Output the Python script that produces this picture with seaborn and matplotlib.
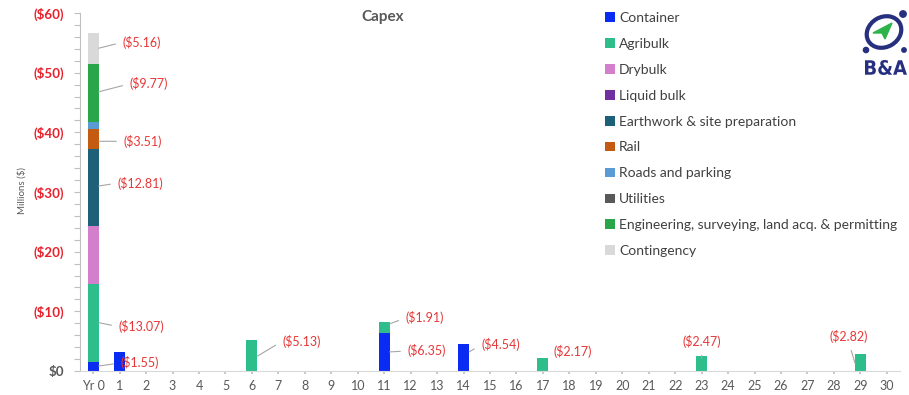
import matplotlib
matplotlib.use("Agg")
import matplotlib.pyplot as plt
import pandas as pd
import seaborn as sns
from matplotlib.patches import Patch, Ellipse, Polygon, Circle, PathPatch
from matplotlib.textpath import TextPath
from matplotlib.font_manager import FontProperties
from matplotlib.ticker import MultipleLocator
from matplotlib.transforms import Affine2D

sns.set_style("white")
plt.rcParams["font.family"] = ["Lato", "DejaVu Sans"]

# ---- data (millions of $) ----
years = list(range(31))
year_labels = ["Yr 0"] + [str(y) for y in years[1:]]

categories = [
    "Container", "Agribulk", "Drybulk", "Liquid bulk",
    "Earthwork & site preparation", "Rail", "Roads and parking",
    "Utilities", "Engineering, surveying, land acq. & permitting",
    "Contingency",
]
colors = [
    "#0A2CF2", "#2EBE8C", "#D47FCB", "#7030A0", "#1F6079",
    "#C55A11", "#5B9BD5", "#595959", "#2AA64A", "#D9D9D9",
]

container = {0: 1.55, 1: 3.25, 11: 6.35, 14: 4.54}
agribulk = {0: 13.07, 6: 5.13, 11: 1.91, 17: 2.17, 23: 2.47, 29: 2.82}
drybulk = {0: 9.70}
liquid_bulk = {}
earthwork = {0: 12.81}
rail = {0: 3.51}
roads = {0: 1.10}
utilities = {}
engineering = {0: 9.77}
contingency = {0: 5.16}

series = [container, agribulk, drybulk, liquid_bulk, earthwork, rail,
          roads, utilities, engineering, contingency]

rows = []
for cat, vals in zip(categories, series):
    for y, lab in zip(years, year_labels):
        rows.append({"year": y, "label": lab, "category": cat,
                     "value": vals.get(y, 0.0)})
df = pd.DataFrame(rows)
df["category"] = pd.Categorical(df["category"], categories, ordered=True)
df = df.sort_values(["year", "category"])
df["top"] = df.groupby("year", observed=True)["value"].cumsum()

# ---- figure ----
W, H = 909, 395
fig = plt.figure(figsize=(W / 100, H / 100), dpi=100)
ax = fig.add_axes([80 / W, 1 - 371 / H, 820 / W, (371 - 13) / H])

# stacked bars: paint cumulative totals from the top layer down
for cat, col in reversed(list(zip(categories, colors))):
    sub = df[(df["category"] == cat) & (df["value"] > 0)]
    if sub.empty:
        continue
    sns.barplot(data=sub, x="label", y="top", order=year_labels, color=col,
                saturation=1, width=0.42, errorbar=None, linewidth=0, ax=ax)

ax.set_xlim(-0.5, 30.5)
ax.set_ylim(0, 60)
ax.set_xlabel("")
ax.set_ylabel("")

red = "#E8202A"
lab_red = "#E63838"
grey = "#595959"

ax.set_yticks(range(0, 61, 10))
ax.set_yticklabels(["$0"] + [f"(${v})" for v in range(10, 61, 10)])
ax.yaxis.set_minor_locator(MultipleLocator(2))
ax.tick_params(axis="y", which="both", left=True, direction="out",
               length=4, width=0.8, color="#BFBFBF")
ax.tick_params(axis="y", which="major", labelsize=9.6, pad=7.5)
for i, t in enumerate(ax.get_yticklabels()):
    t.set_fontweight("bold")
    t.set_color(grey if i == 0 else red)

ax.set_xticks(range(31))
ax.set_xticklabels(year_labels)
ax.tick_params(axis="x", bottom=True, direction="out", length=2.5, width=1.2,
               color="#BFBFBF", labelsize=9, labelcolor=grey, pad=4)

for s in ("top", "right"):
    ax.spines[s].set_visible(False)
ax.spines["left"].set_color("#BFBFBF")
ax.spines["bottom"].set_color("#D9D9D9")
ax.spines["left"].set_linewidth(0.8)
ax.spines["bottom"].set_linewidth(0.8)

# ---- value labels with leader lines ----
line_kw = dict(arrowstyle="-", color="#A6A6A6", lw=0.8, shrinkA=3, shrinkB=0)


def value_label(x, y, text, dx, dy, ha="left", relpos=(0, 0.5), line=True):
    kw = dict(xy=(x, y), xycoords="data", xytext=(dx, dy),
              textcoords="offset pixels", ha=ha, va="center",
              fontsize=9, color=lab_red)
    if line:
        kw["arrowprops"] = dict(line_kw, relpos=relpos)
    ax.annotate(text, **kw)


edge = 0.21
value_label(0 + edge, 54.1, f"(${contingency[0]:.2f})", 24, 6)
value_label(0 + edge, 46.8, f"(${engineering[0]:.2f})", 31, 8)
value_label(0 + edge, 38.5, f"(${rail[0]:.2f})", 25, 0)
value_label(0 + edge, 31.0, f"(${earthwork[0]:.2f})", 19, 3)
value_label(0 + edge, 8.1, f"(${agribulk[0]:.2f})", 20, -4)
value_label(0 + edge, 0.84, f"(${container[0]:.2f})", 22, 3)
value_label(6 + edge, 2.5, f"(${agribulk[6]:.2f})", 25, 15)
value_label(11 + edge, 7.9, f"(${agribulk[11]:.2f})", 16, 6)
value_label(11 + edge, 3.2, f"(${container[11]:.2f})", 18, 1)
value_label(14 + edge, 3.2, f"(${container[14]:.2f})", 12, 7)
value_label(17 + edge, 2.17, f"(${agribulk[17]:.2f})", 5, 7, line=False)
value_label(23, 2.1, f"(${agribulk[23]:.2f})", 0, 17, ha="center",
            relpos=(0.5, 0))
value_label(28.8, 1.3, f"(${agribulk[29]:.2f})", -6, 26.5, ha="center",
            relpos=(0.5, 0))

# ---- titles ----
fig.text(383 / W, 1 - 17 / H, "Capex", ha="center", va="center",
         fontsize=11, fontweight="bold", color=grey)
fig.text(22 / W, 1 - 190 / H, "Millions ($)", ha="center", va="center",
         rotation=90, fontsize=7, color=grey)

# ---- legend ----
handles = [Patch(facecolor=c, edgecolor="none") for c in colors]
fig.legend(handles, categories, loc="upper left",
           bbox_to_anchor=(605 / W, 1 - 12 / H), frameon=False,
           fontsize=10, labelspacing=1.0, handlelength=0.7,
           handleheight=0.7, handletextpad=0.3, borderaxespad=0,
           borderpad=0, labelcolor="#404040")

# ---- logo ----
navy = "#26307F"
lax = fig.add_axes([852 / W, 1 - 80 / H, 57 / W, 72 / H])
lax.set_xlim(0, 57)
lax.set_ylim(72, 0)
lax.axis("off")
lax.add_patch(Ellipse((32, 24), 36, 30, angle=-30, fill=False,
                      edgecolor=navy, lw=3.0))
lax.add_patch(Circle((51, 6), 3.2, color=navy))
lax.add_patch(Circle((14, 42), 2.6, color=navy))
lax.add_patch(Circle((52, 42), 2.2, color=navy))
lax.add_patch(Polygon([(40, 15), (21, 25), (30, 25), (33, 31)],
                      closed=True, color="#2DB34A"))
tp = TextPath((0, 0), "B&A", size=10,
              prop=FontProperties(family="DejaVu Sans", weight="bold"))
bb = tp.get_extents()
tr = (Affine2D().translate(-bb.x0, -bb.y0)
      .scale(42 / bb.width, -15 / bb.height).translate(13, 67))
lax.add_patch(PathPatch(tr.transform_path(tp), facecolor=navy, lw=0))

fig.savefig("out.png", dpi=100)
